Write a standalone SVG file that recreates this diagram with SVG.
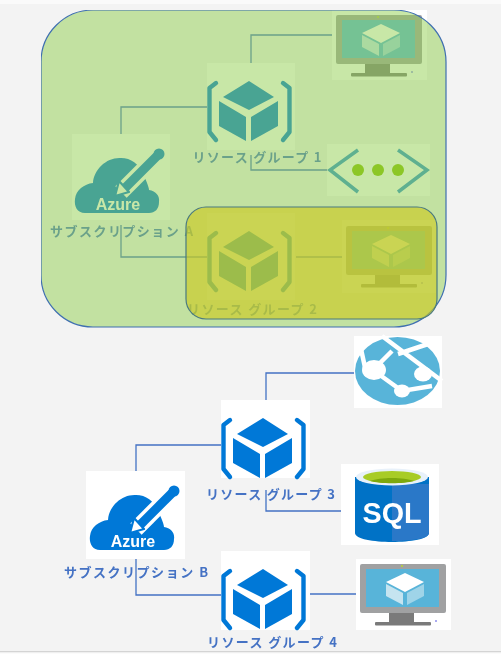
<svg xmlns="http://www.w3.org/2000/svg" width="501" height="654" viewBox="0 0 501 654">
<style>
.conn{fill:none;stroke:#4472c4;stroke-width:1.3}
.lbl{font-family:"Noto Sans CJK JP","Liberation Sans",sans-serif;font-weight:700;font-size:13px;fill:#4472c4}
.box{fill:#fff}
.blue{fill:#0078d7}
.brk{fill:none;stroke:#0078d7;stroke-width:4.4;stroke-linejoin:round;stroke-linecap:round}
</style>
<defs>
<filter id="soft" x="0" y="0" width="100%" height="100%"><feGaussianBlur stdDeviation="0.5"/></filter>
<g id="rg">
<path class="brk" d="M9 20 L2.500 25 V69 L9 77"/>
<path class="brk" d="M76 20 L82.500 25 V69 L76 77"/>
<path class="blue" d="M42 18 L67 34 L42 47 L16 34Z"/>
<path class="blue" d="M12 38 L39 54 V78 L12 63Z"/>
<path class="blue" d="M71 38 L44 54 V78 L71 63Z"/>
</g>
<g id="vm">
<rect x="4" y="5" width="86" height="49" rx="2" fill="#a0a1a2"/>
<rect x="10" y="10" width="73" height="38" fill="#59b4d9"/>
<rect x="33" y="54" width="25" height="9" fill="#7a7a7a"/>
<rect x="19" y="63" width="56" height="3.500" rx="1" fill="#7a7a7a"/>
<path d="M49 14 L68 23 L49 33 L30 23Z" fill="#fff"/>
<path d="M30 25 L47 34 V46 L30 37Z" fill="#c5e4f0"/>
<path d="M68 25 L51 34 V46 L68 37Z" fill="#9fd4e8"/>
<circle cx="46" cy="7" r="1" fill="#b8d432"/>
<circle cx="80" cy="62" r="0.800" fill="#4040e0"/>
</g>
<g id="sub">
<path class="blue" d="M14 79 C6 79 3 72 4 65 C5 56 13 50 22 49 C23 35 36 23 50 24 C60 24 68 30 72 40 C76 48 78 54 78 56 C85 57 89 62 88 68 C88 75 84 79 78 79Z"/>
<path d="M50 58 L88 20" fill="none" stroke="#fff" stroke-width="16"/>
<path d="M54 54 L86 22" fill="none" stroke="#0078d7" stroke-width="9"/>
<path d="M44 62 L48 47 L58 58Z" fill="#fff" stroke="#0078d7" stroke-width="2.200" stroke-linejoin="round"/>
<circle cx="88" cy="20" r="5.500" fill="#0078d7"/>
<text x="47" y="76" text-anchor="middle" font-family="'Liberation Sans',sans-serif" font-weight="700" font-size="16" fill="#fff">Azure</text>
</g>
</defs>
<rect width="501" height="654" fill="#f3f3f3"/>
<rect y="0" width="501" height="4" fill="#fafafa"/>
<rect y="651" width="501" height="1.500" fill="#d4d4d4"/>
<rect y="652.500" width="501" height="1.500" fill="#fbfbfb"/>
<g filter="url(#soft)">
<g id="connectors">
<path class="conn" d="M251 63 V35 H337"/>
<path class="conn" d="M251 155 V170 H328"/>
<path class="conn" d="M121 134 V107 H207"/>
<path class="conn" d="M121 225 V257 H207"/>
<path class="conn" d="M296 257 H342"/>
<path class="conn" d="M266 400 V373 H354"/>
<path class="conn" d="M266 490 V511 H341"/>
<path class="conn" d="M136 471 V445 H221"/>
<path class="conn" d="M136 559 V595 H221"/>
<path class="conn" d="M310 594 H357"/>
</g>
<g id="sub-a"><rect class="box" x="72" y="134" width="98" height="86"/><use href="#sub" x="71" y="134"/><text class="lbl" x="50" y="236" textLength="143" lengthAdjust="spacing">サブスクリプション A</text></g>
<g id="rg-1"><rect class="box" x="207" y="63" width="88" height="87"/><use href="#rg" x="207" y="63"/><text class="lbl" x="192.500" y="162" textLength="129" lengthAdjust="spacing">リソース グループ 1</text></g>
<g id="vm-1"><rect class="box" x="332" y="10" width="95" height="70"/><use href="#vm" x="332" y="10"/></g>
<g id="vnet"><rect class="box" x="327" y="144" width="103" height="52"/>
<path d="M358 150 L330 170 L358 192 M398 150 L427 170 L398 192" fill="none" stroke="#2a90d0" stroke-width="3.500"/>
<circle cx="358" cy="170" r="6" fill="#86be00"/><circle cx="378" cy="170" r="6" fill="#86be00"/><circle cx="398" cy="170" r="6" fill="#86be00"/></g>
<g id="rg-2"><rect class="box" x="207" y="213" width="88" height="87"/><use href="#rg" x="207" y="213"/><text class="lbl" x="187" y="314" textLength="130" lengthAdjust="spacing">リソース グループ 2</text></g>
<g id="vm-2"><rect class="box" x="342" y="220" width="95" height="73"/><use href="#vm" x="342" y="221"/></g>
<g id="subscription-scope"><rect x="41" y="10" width="405" height="317" rx="52" fill="#92d050" fill-opacity="0.5" stroke="#3f6fb0" stroke-width="1.200"/></g>
<g id="rg-scope"><rect x="186" y="207" width="251" height="112" rx="20" fill="#cbca23" fill-opacity="0.64" stroke="#4a7a80" stroke-width="1.200"/></g>
<g id="sub-b"><rect class="box" x="86" y="471" width="99" height="88"/><use href="#sub" x="86" y="471"/><text class="lbl" x="64" y="577" textLength="144" lengthAdjust="spacing">サブスクリプション B</text></g>
<g id="rg-3"><rect class="box" x="221" y="400" width="89" height="78"/><use href="#rg" x="221" y="400"/><text class="lbl" x="206" y="499" textLength="129" lengthAdjust="spacing">リソース グループ 3</text></g>
<g id="rg-4"><rect class="box" x="221" y="551" width="89" height="79"/><use href="#rg" x="221" y="551"/><text class="lbl" x="207" y="647" textLength="130" lengthAdjust="spacing">リソース グループ 4</text></g>
<g id="web"><rect class="box" x="354" y="336" width="88" height="72"/>
<ellipse cx="397.500" cy="371" rx="42.500" ry="34" fill="#59b4d9"/>
<path d="M382 336 L442 381 M373 370 L392 351 M398 354 L428 344 M361 349 L366 372 M373 370 L402 391 L432 386" fill="none" stroke="#fff" stroke-width="4.500"/>
<ellipse cx="374" cy="370" rx="12" ry="10" fill="#fff"/><ellipse cx="423" cy="374" rx="9" ry="7.500" fill="#fff"/><ellipse cx="402" cy="391" rx="8" ry="6.500" fill="#fff"/></g>
<g id="sql"><rect class="box" x="341" y="464" width="98" height="81"/>
<path d="M355 477 V533 C355 545 429 545 429 533 V477Z" fill="#0072c6"/>
<path d="M392 484 H429 V533 C429 539 410 541 392 541Z" fill="#2a78c8"/>
<ellipse cx="392" cy="477" rx="36" ry="8.500" fill="#e8f1fa"/>
<ellipse cx="392" cy="477" rx="29" ry="6" fill="#a8cc28"/>
<path d="M370 481 C380 477 404 477 414 481 C404 484 380 484 370 481Z" fill="#7da80f"/>
<text x="362.500" y="523" font-family="'Liberation Sans',sans-serif" font-weight="700" font-size="30" fill="#fff" textLength="59" lengthAdjust="spacingAndGlyphs">SQL</text></g>
<g id="vm-4"><rect class="box" x="356" y="559" width="95" height="71"/><use href="#vm" x="356" y="559"/></g>
</g>
</svg>
